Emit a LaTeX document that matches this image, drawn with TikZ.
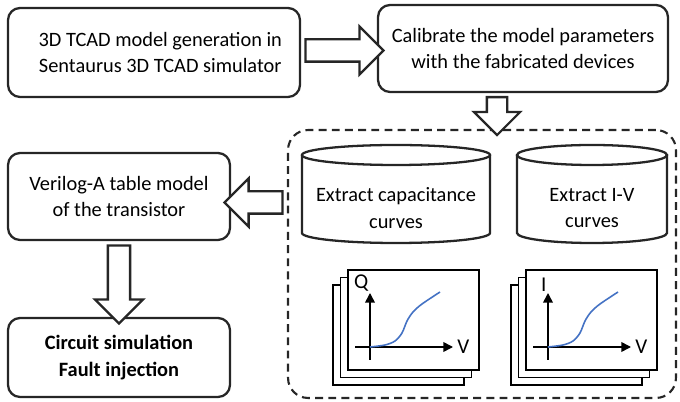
\documentclass[tikz,border=0pt]{standalone}
\usepackage{fontspec}
\setmainfont{Carlito}
\usetikzlibrary{shapes.arrows, calc, arrows.meta}
\definecolor{curveblue}{RGB}{68,114,196}
\begin{document}
\begin{tikzpicture}[x=0.02cm, y=0.02cm, font=\fontsize{11.6}{15.3}\selectfont,
  stepbox/.style={rectangle, draw=black!85, line width=1.3pt, rounded corners=0.24cm, align=center, inner sep=0pt},
  blockarrow/.style={single arrow, draw=black!85, line width=1.3pt, fill=white, inner xsep=0pt, inner ysep=0.2cm, single arrow head extend=0.26cm},
  cyl/.style={draw=black!85, line width=1.3pt},
  frame/.style={draw, fill=white, line width=0.8pt},
  axis/.style={line width=0.9pt, -{Triangle[width=5.5pt, length=5.5pt]}}]
\useasboundingbox (0,0) rectangle (680,402);
% process boxes
\node[stepbox, minimum width=5.84cm, minimum height=1.78cm] (gen) at (154,349.5) {\hspace{0.25cm}3D TCAD model generation in\\\hspace{0.25cm}Sentaurus 3D TCAD simulator};
\node[stepbox, minimum width=5.8cm, minimum height=1.74cm] (cal) at (523,353.5) {Calibrate the model parameters\\with the fabricated devices};
\node[stepbox, minimum width=4.44cm, minimum height=1.74cm] (ver) at (119,205.5) {Verilog-A table model\\of the transistor};
\node[stepbox, minimum width=4.44cm, minimum height=1.58cm, font=\fontsize{11.6}{15.3}\selectfont\bfseries] (cir) at (119,44.5) {Circuit simulation\\Fault injection};
\node[draw=black!85, line width=1.2pt, dash pattern=on 4.5pt off 3pt, rounded corners=0.4cm, minimum width=7.76cm, minimum height=5.36cm] (extract) at (482,138) {};
% cylinders: centre x, x radius, text
\foreach \cx/\rx/\txt/\nm in {396/94/{Extract capacitance\\curves}/capcyl, 592/75/{Extract I-V\\curves}/ivcyl} {
  \draw[cyl] (\cx,247) ellipse[x radius=\rx, y radius=10];
  \draw[cyl] ({\cx-\rx},247) -- ({\cx-\rx},169) arc[start angle=180, end angle=360, x radius=\rx, y radius=10] -- ({\cx+\rx},247);
  \node[align=center] (\nm) at (\cx,194) {\txt};
}
% plot stacks
\foreach \sx/\ylab/\nm in {348/Q/cap, 526/I/iv} {
  \foreach \k in {2,1,0}
    \draw[frame] ({\sx-7.5*\k},{32-7.5*\k}) rectangle ++(131,100);
  \coordinate (\nm o) at ({\sx+22},55);
  \draw[axis] ($(\nm o)+(0,-13)$) -- ++(0,67) node[anchor=south east, inner sep=0.5pt, font=\fontsize{12}{14}\selectfont] (\nm y) {\ylab};
  \draw[axis] ($(\nm o)+(-15,0)$) -- ++(98,0) node[anchor=west, inner sep=2pt, font=\fontsize{12}{14}\selectfont] (\nm x) {V};
  \draw[curveblue, line width=0.9pt, shift={(\nm o)}] plot[smooth] coordinates {(0,0) (15,2) (25,6) (32,14) (37,26) (43,35) (52,43) (70,55)};
}
% hollow arrows
\coordinate (ax) at (497,0);
\path (gen.east) -- node[blockarrow, minimum height=1.56cm] (a1) {} (cal.west);
\path (cal.south -| ax) -- node[blockarrow, rotate=-90, minimum height=0.76cm, inner ysep=0.18cm] (a2) {} (extract.north -| ax);
\path ($(extract.west |- ver.east)+(0,-6)$) -- node[blockarrow, rotate=180, minimum height=1.16cm] (a3) {} ($(ver.east)+(0,-6)$);
\path (ver.south) -- node[blockarrow, rotate=-90, minimum height=1.56cm] (a4) {} (cir.north);
\end{tikzpicture}
\end{document}
